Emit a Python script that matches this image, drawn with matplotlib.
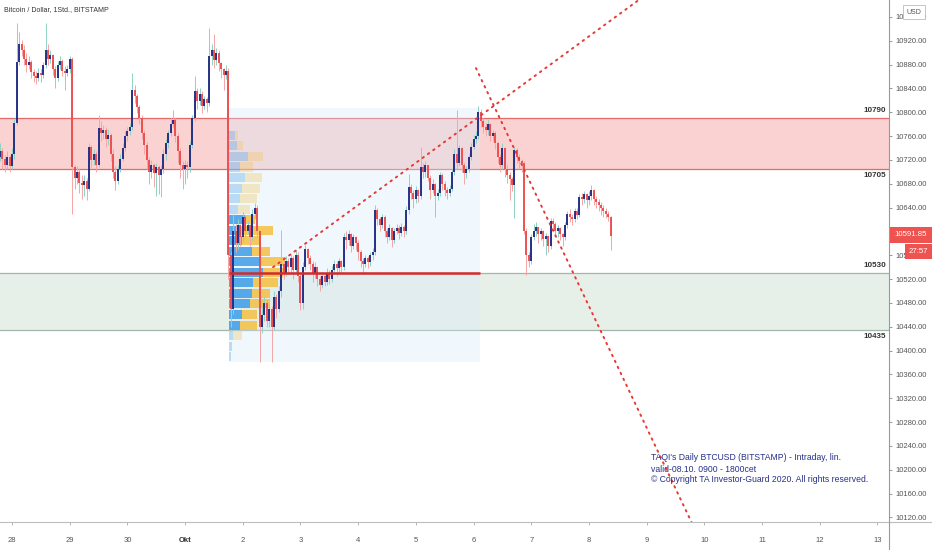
import numpy as np
import matplotlib
matplotlib.use("Agg")
import matplotlib.pyplot as plt
from matplotlib.patches import Rectangle

# ---------------- data ----------------
# hourly candles, hour 0 = 28 Sep 00:00, first candle at hour -5
first_hour = -5
first_open = 10725
close = [
    10735, 10722, 10712, 10725, 10710,
    10730, 10782, 10884, 10915, 10905, 10890, 10880, 10885, 10868, 10860, 10858, 10866, 10862, 10880, 10904, 10890, 10896, 10872, 10858, 10880, 10886, 10870, 10866, 10872,
    10890, 10708, 10690, 10700, 10682, 10678, 10684, 10672, 10742, 10720, 10730, 10712, 10773, 10765, 10770, 10755, 10762, 10730, 10700, 10685, 10705, 10722, 10740, 10760,
    10768, 10775, 10837, 10828, 10808, 10790, 10765, 10745, 10720, 10700, 10712, 10698, 10708, 10695, 10705, 10730, 10748, 10765, 10780, 10787, 10760, 10735, 10712, 10705,
    10712, 10708, 10745, 10790, 10835, 10818, 10830, 10810, 10822, 10815, 10895, 10905, 10888, 10900, 10882, 10872, 10862, 10870, 10560, 10470, 10600, 10580, 10610, 10590,
    10625, 10600, 10610, 10590, 10630, 10640, 10600, 10440, 10460, 10480, 10450, 10470, 10440, 10490, 10470, 10500, 10545, 10530, 10550, 10540, 10555, 10535, 10560, 10525,
    10480, 10540, 10570, 10555, 10545, 10530, 10540, 10520, 10510, 10525, 10515, 10530, 10520, 10535, 10545, 10538, 10550, 10540, 10590, 10585, 10595, 10575, 10590, 10580,
    10565, 10550, 10545, 10555, 10548, 10560, 10565, 10636, 10620, 10610, 10625, 10600, 10590, 10605, 10585, 10600, 10605, 10598, 10608, 10600, 10636, 10674, 10665, 10655,
    10670, 10660, 10708, 10700, 10712, 10690, 10670, 10680, 10660, 10665, 10695, 10680, 10670, 10665, 10672, 10700, 10730, 10715, 10740, 10712, 10698, 10705, 10725, 10742,
    10755, 10760, 10800, 10785, 10775, 10770, 10780, 10760, 10765, 10748, 10725, 10712, 10740, 10705, 10695, 10688, 10678, 10737, 10725, 10718, 10715, 10600, 10560, 10550,
    10590, 10600, 10607, 10595, 10600, 10588, 10592, 10575, 10618, 10612, 10600, 10605, 10595, 10590, 10610, 10630, 10625, 10620, 10635, 10628, 10658, 10655, 10662, 10652,
    10660, 10670, 10655, 10650, 10645, 10640, 10635, 10630, 10624, 10592,
]
high = [
    10748, 10740, 10728, 10735, 10728,
    10740, 10790, 10950, 10935, 10922, 10912, 10900, 10895, 10888, 10872, 10870, 10875, 10872, 10885, 10950, 10915, 10905, 10898, 10878, 10886, 10895, 10890, 10878, 10880,
    10895, 10892, 10712, 10710, 10705, 10695, 10695, 10690, 10748, 10745, 10738, 10735, 10795, 10785, 10778, 10775, 10772, 10765, 10738, 10710, 10712, 10730, 10748, 10768,
    10775, 10782, 10866, 10845, 10830, 10812, 10795, 10770, 10750, 10725, 10720, 10715, 10715, 10712, 10712, 10738, 10755, 10770, 10790, 10804, 10790, 10765, 10740, 10718,
    10720, 10718, 10752, 10795, 10860, 10840, 10840, 10835, 10828, 10825, 10941, 10915, 10932, 10908, 10905, 10885, 10875, 10880, 10875, 10565, 10630, 10612, 10620, 10612,
    10632, 10628, 10618, 10612, 10638, 10648, 10645, 10600, 10475, 10490, 10485, 10478, 10475, 10500, 10495, 10508, 10602, 10552, 10558, 10555, 10562, 10558, 10568, 10565,
    10528, 10548, 10578, 10572, 10560, 10550, 10548, 10542, 10525, 10532, 10528, 10538, 10535, 10542, 10552, 10550, 10556, 10552, 10598, 10600, 10602, 10598, 10596, 10592,
    10585, 10568, 10555, 10560, 10558, 10565, 10572, 10645, 10640, 10625, 10630, 10628, 10605, 10612, 10608, 10606, 10612, 10610, 10614, 10610, 10642, 10697, 10680, 10670,
    10676, 10672, 10742, 10715, 10718, 10712, 10695, 10688, 10682, 10672, 10700, 10698, 10685, 10675, 10678, 10705, 10738, 10804, 10745, 10742, 10716, 10710, 10730, 10748,
    10762, 10768, 10810, 10805, 10790, 10782, 10788, 10782, 10770, 10768, 10752, 10730, 10748, 10742, 10712, 10700, 10692, 10742, 10740, 10730, 10722, 10718, 10605, 10565,
    10595, 10612, 10615, 10608, 10605, 10602, 10598, 10594, 10622, 10622, 10615, 10610, 10608, 10598, 10615, 10635, 10638, 10630, 10640, 10640, 10662, 10665, 10668, 10665,
    10668, 10678, 10672, 10660, 10655, 10650, 10645, 10640, 10635, 10626,
]
low = [
    10718, 10705, 10700, 10705, 10700,
    10705, 10722, 10778, 10880, 10895, 10880, 10868, 10872, 10858, 10850, 10848, 10852, 10850, 10858, 10875, 10880, 10882, 10862, 10840, 10852, 10872, 10860, 10837, 10860,
    10866, 10630, 10672, 10680, 10665, 10655, 10660, 10652, 10668, 10708, 10712, 10700, 10708, 10752, 10755, 10742, 10745, 10718, 10690, 10670, 10680, 10700, 10718, 10735,
    10752, 10762, 10770, 10815, 10798, 10780, 10755, 10730, 10705, 10680, 10690, 10675, 10660, 10662, 10658, 10698, 10720, 10740, 10760, 10775, 10750, 10715, 10690, 10672,
    10680, 10690, 10700, 10740, 10785, 10805, 10812, 10798, 10805, 10800, 10810, 10880, 10875, 10880, 10870, 10858, 10837, 10855, 10520, 10440, 10462, 10565, 10570, 10575,
    10582, 10590, 10595, 10575, 10585, 10620, 10592, 10381, 10430, 10450, 10440, 10440, 10381, 10435, 10455, 10465, 10490, 10520, 10525, 10528, 10530, 10520, 10530, 10515,
    10468, 10470, 10535, 10545, 10535, 10515, 10522, 10508, 10500, 10505, 10508, 10510, 10512, 10515, 10530, 10525, 10532, 10532, 10535, 10570, 10578, 10565, 10570, 10568,
    10552, 10540, 10530, 10540, 10538, 10542, 10552, 10560, 10610, 10600, 10605, 10590, 10580, 10585, 10574, 10580, 10595, 10588, 10592, 10590, 10595, 10630, 10655, 10640,
    10648, 10650, 10655, 10690, 10692, 10685, 10655, 10665, 10624, 10652, 10660, 10670, 10660, 10655, 10660, 10668, 10695, 10705, 10710, 10700, 10680, 10690, 10700, 10720,
    10738, 10748, 10755, 10775, 10765, 10760, 10762, 10752, 10752, 10738, 10715, 10700, 10705, 10692, 10682, 10652, 10668, 10622, 10715, 10705, 10700, 10595, 10527, 10540,
    10545, 10585, 10592, 10580, 10585, 10575, 10560, 10565, 10570, 10600, 10592, 10590, 10585, 10575, 10585, 10605, 10615, 10610, 10615, 10620, 10625, 10645, 10648, 10640,
    10645, 10652, 10645, 10640, 10635, 10628, 10625, 10622, 10618, 10569,
]

day_labels = ["28", "29", "30", "Okt", "2", "3", "4", "5", "6", "7", "8", "9", "10", "11", "12", "13"]
day_hours = [0, 24, 48, 72, 96, 120, 144, 168, 192, 216, 240, 264, 288, 312, 336, 360]
price_ticks = [10120, 10160, 10200, 10240, 10280, 10320, 10360, 10400, 10440, 10480,
               10520, 10560, 10600, 10640, 10680, 10720, 10760, 10800, 10840, 10880, 10920, 10960]

sell_zone = (10705, 10790)
buy_zone = (10435, 10530)
poc_level = 10531

# fixed range volume profile (rows from top to bottom)
vp_top, vp_bottom = 10770, 10381
vp_up = [6, 7.7, 19.3, 11, 16, 12.7, 11, 9.3, 16, 11, 12.7, 22.7, 31, 34.3, 24.3, 22.7, 21, 12.7, 11, 4.3, 2.7, 1.7]
vp_dn = [3.3, 6.7, 15, 13.3, 16.7, 18.3, 16.7, 11.7, 10, 33.3, 18.3, 18.3, 25, 20, 25, 18.3, 20, 15, 16.7, 8.3, 0, 0]
vp_value_area = (8, 18)
vp_range_hours = (90.3, 194.7)
vp_range_prices = (10381, 10807)

trend_up = ([108.6, 265.0], [10540, 11001])
trend_down = ([193.0, 285.0], [10874, 10092])

last_price = 10591.85
countdown = "27:57"
title = "Bitcoin / Dollar, 1Std., BITSTAMP"
note_lines = ["TAQI's Daily BTCUSD (BITSTAMP) - Intraday, lin.",
              "valid-08.10. 0900 - 1800cet",
              "\u00a9 Copyright TA Investor-Guard 2020. All rights reserved."]

assert len(close) == len(high) == len(low) == 255

# ---------------- figure ----------------
W, H = 932, 550
fig = plt.figure(figsize=(W / 100, H / 100), dpi=100)
plot_right = 889
plot_bottom = 522
ax = fig.add_axes([0, 1 - plot_bottom / H, plot_right / W, plot_bottom / H])
ax.set_xlim(-4.99, 364.8)
ax.set_ylim(10112.4, 10988.3)

FONT = "Liberation Sans"

# zones
x0, x1 = ax.get_xlim()
ax.add_patch(Rectangle((x0, sell_zone[0]), x1 - x0, sell_zone[1] - sell_zone[0],
                       facecolor="#fad2d2", edgecolor="none", zorder=1))
for lv in sell_zone:
    ax.axhline(lv, color="#e36a6a", lw=0.9, zorder=1.2)
ax.add_patch(Rectangle((x0, buy_zone[0]), x1 - x0, buy_zone[1] - buy_zone[0],
                       facecolor="#e7efe9", edgecolor="none", zorder=1))
for lv in buy_zone:
    ax.axhline(lv, color="#a3b7a9", lw=0.9, zorder=1.2)

# volume profile range box
ax.add_patch(Rectangle((vp_range_hours[0], vp_range_prices[0]),
                       vp_range_hours[1] - vp_range_hours[0],
                       vp_range_prices[1] - vp_range_prices[0],
                       facecolor="#d6eafa", alpha=0.35, edgecolor="none", zorder=1.5))

# volume profile bars
nrows = len(vp_up)
row_h = (vp_top - vp_bottom) / nrows
tot = np.array(vp_up) + np.array(vp_dn)
scale = 23.3 / tot.max()
for k in range(nrows):
    yc = vp_top - (k + 0.5) * row_h
    strong = vp_value_area[0] <= k <= vp_value_area[1]
    a = 0.85 if strong else 0.3
    wu = vp_up[k] * scale
    wd = vp_dn[k] * scale
    ax.barh(yc, wu, left=vp_range_hours[0], height=row_h * 0.86,
            color="#3d9de8", alpha=a, edgecolor="none", zorder=2)
    if wd > 0:
        ax.barh(yc, wd, left=vp_range_hours[0] + wu, height=row_h * 0.86,
                color="#f5c040", alpha=a, edgecolor="none", zorder=2)

# POC / support line
ax.plot([vp_range_hours[0], vp_range_hours[1]], [poc_level, poc_level],
        color="#d42a2a", lw=1.8, zorder=4, solid_capstyle="butt")

# candles
hours = np.arange(first_hour, first_hour + len(close))
c = np.array(close, float)
o = np.concatenate([[first_open], c[:-1]])
hi = np.maximum(np.array(high, float), np.maximum(o, c))
lo = np.minimum(np.array(low, float), np.minimum(o, c))
up = c >= o
dn = ~up
ax.vlines(hours[up], lo[up], hi[up], color="#8fd3c3", lw=0.7, zorder=3)
ax.vlines(hours[dn], lo[dn], hi[dn], color="#f4a6a6", lw=0.7, zorder=3)
ax.vlines(hours[up], o[up], c[up], color="#1f2a84", lw=1.35, zorder=3.2)
ax.vlines(hours[dn], c[dn], o[dn], color="#ec4c4c", lw=1.35, zorder=3.2)

# trend lines (dotted)
ax.plot(*trend_up, color="#e53935", lw=1.4, ls=(0, (0.8, 2.6)), dash_capstyle="round", zorder=5)
ax.plot(*trend_down, color="#e53935", lw=1.4, ls=(0, (0.8, 2.6)), dash_capstyle="round", zorder=5)

# zone labels
tx = ax.get_yaxis_transform()
for lv, dy, va in [(sell_zone[1], 3, "bottom"), (sell_zone[0], -2.5, "top"),
                   (buy_zone[1], 3, "bottom"), (buy_zone[0], -2.5, "top")]:
    ax.annotate(f"{lv}", (0.997, lv), xycoords=tx, xytext=(0, dy),
                textcoords="offset points", ha="right", va=va, fontsize=5.8,
                fontweight="bold", color="#333333", family=FONT)

# note text
for i, line in enumerate(note_lines):
    fig.text(651 / W, 1 - (458 + 11 * i) / H, line, fontsize=6.2, color="#27308a",
             family=FONT, ha="left", va="center")

# title
fig.text(4 / W, 1 - 10 / H, title, fontsize=5.0, color="#333333", family=FONT,
         ha="left", va="center")

# axes styling
for s in ["top", "left"]:
    ax.spines[s].set_visible(False)
ax.spines["right"].set_color("#9a9a9a")
ax.spines["bottom"].set_color("#bdbdbd")
ax.spines["right"].set_linewidth(0.8)
ax.spines["bottom"].set_linewidth(0.8)
ax.yaxis.tick_right()
ax.set_yticks(price_ticks)
# 10600.00 sits fully under the last-price marker in the reference
ax.set_yticklabels(["" if v == 10600 else f"{v:.2f}" for v in price_ticks],
                   fontsize=5.5, color="#555555", family=FONT)
ax.tick_params(axis="y", length=2.5, width=0.6, color="#888888", pad=2.5)
ax.set_xticks(day_hours)
ax.set_xticklabels(day_labels, fontsize=5.5, color="#555555", family=FONT)
ax.tick_params(axis="x", length=2, width=0.6, color="#aaaaaa", pad=9)
for lab in ax.get_xticklabels():
    if lab.get_text() == "Okt":
        lab.set_fontweight("bold")
        lab.set_color("#333333")
# x-axis line continues under price scale
fig.add_artist(plt.Line2D([plot_right / W, 1], [1 - plot_bottom / H] * 2,
                          transform=fig.transFigure, color="#bdbdbd", lw=0.8))
fig.add_artist(plt.Line2D([plot_right / W] * 2, [0, 1 - plot_bottom / H],
                          transform=fig.transFigure, color="#9a9a9a", lw=0.8))

# last price label
def fig_box(xl, yt, xr, yb, fc, ec="none", lw=0):
    fig.add_artist(Rectangle((xl / W, 1 - yb / H), (xr - xl) / W, (yb - yt) / H,
                             transform=fig.transFigure, facecolor=fc, edgecolor=ec, lw=lw, zorder=10))

fig_box(890, 227, 932, 243, "#ef5350")
fig.text(911 / W, 1 - 235 / H, f"{last_price:.2f}", fontsize=5.6, color="white",
         family=FONT, ha="center", va="center", zorder=11)
fig_box(905, 244, 932, 259, "#ef5350")
fig.text(918.5 / W, 1 - 251.5 / H, countdown, fontsize=5.6, color="white",
         family=FONT, ha="center", va="center", zorder=11)
fig_box(903, 5, 925, 19, "white", ec="#bbbbbb", lw=0.6)
fig.text(914 / W, 1 - 12 / H, "USD", fontsize=5.0, color="#555555",
         family=FONT, ha="center", va="center", zorder=11)

fig.savefig("out.png", dpi=100, facecolor="white")
